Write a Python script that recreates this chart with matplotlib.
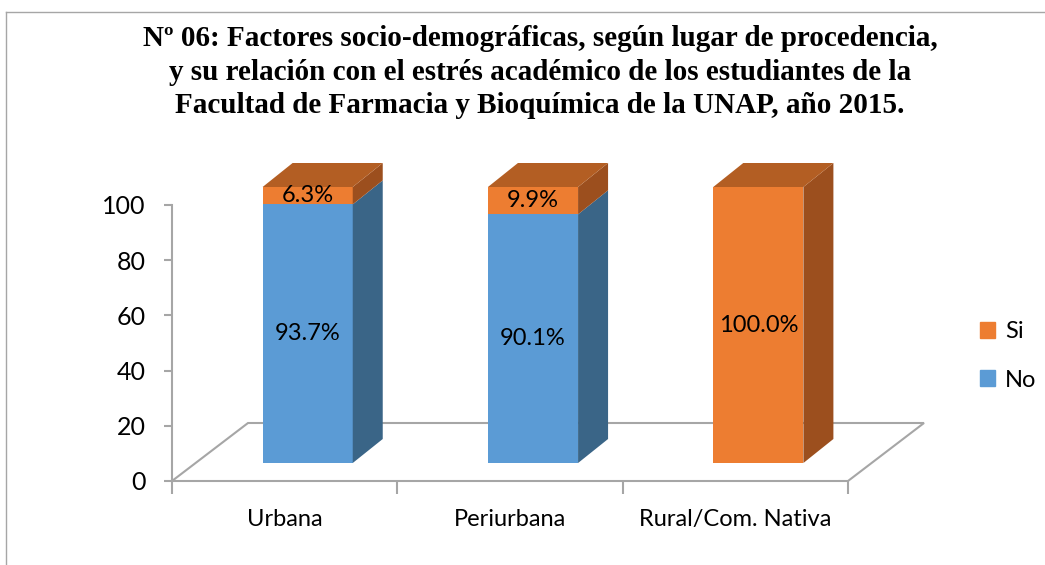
import numpy as np
import matplotlib
matplotlib.use("Agg")
import matplotlib.pyplot as plt
from matplotlib.patches import Polygon, Patch
from matplotlib.lines import Line2D

# datos del grafico
categorias = ["Urbana", "Periurbana", "Rural/Com. Nativa"]
valores_no = [93.7, 90.1, 0.0]
valores_si = [6.3, 9.9, 100.0]
series = ["No", "Si"]

titulo = ("Nº 06: Factores socio-demográficas, según lugar de procedencia,\n"
          "y su relación con el estrés académico de los estudiantes de la\n"
          "Facultad de Farmacia y Bioquímica de la UNAP, año 2015.")

# colores (frente, lado, arriba)
colores = {
    "No": ("#5B9BD5", "#3A6587", "#44739E"),
    "Si": ("#ED7D31", "#9C4F1E", "#B35E23"),
}
gris = "#A6A6A6"

W, H = 1045, 565
fig = plt.figure(figsize=(W / 100, H / 100), dpi=100)
ax = fig.add_axes([172 / W, 1 - 481 / H, (848 - 172) / W, (481 - 205) / H])
ax.set_xlim(-0.5, len(categorias) - 0.5)
ax.set_ylim(0, 100)

# geometria 3D (en unidades de datos)
px_x = 3 / 676.0
px_y = 100 / 276.0
piso_dx, piso_dy = 76 * px_x, 58 * px_y
ox, oy = 23 * px_x, 18 * px_y
prof_dx, prof_dy = 30 * px_x, 24 * px_y
ancho = 0.40

# piso
x0, x1 = -0.5, len(categorias) - 0.5
piso = [(x0, 0), (x1, 0), (x1 + piso_dx, piso_dy), (x0 + piso_dx, piso_dy), (x0, 0)]
ax.plot([p[0] for p in piso], [p[1] for p in piso], color=gris, lw=1.5,
        clip_on=False, zorder=1, solid_joinstyle="miter")

# barras apiladas con efecto 3D
for i, cat in enumerate(categorias):
    base = 0.0
    segs = [("No", valores_no[i]), ("Si", valores_si[i])]
    segs = [s for s in segs if s[1] > 0]
    for k, (nombre, v) in enumerate(segs):
        frente, lado, arriba = colores[nombre]
        xa = i - ancho / 2 + ox
        xb = i + ancho / 2 + ox
        ya = base + oy
        yb = base + v + oy
        ax.add_patch(Polygon([(xa, ya), (xb, ya), (xb, yb), (xa, yb)],
                             closed=True, fc=frente, ec="none", clip_on=False, zorder=3))
        ax.add_patch(Polygon([(xb, ya), (xb + prof_dx, ya + prof_dy),
                              (xb + prof_dx, yb + prof_dy), (xb, yb)],
                             closed=True, fc=lado, ec="none", clip_on=False, zorder=3))
        if k == len(segs) - 1:
            ax.add_patch(Polygon([(xa, yb), (xb, yb), (xb + prof_dx, yb + prof_dy),
                                  (xa + prof_dx, yb + prof_dy)],
                                 closed=True, fc=arriba, ec="none", clip_on=False, zorder=3))
        ax.text(i + ox, base + v / 2 + oy, f"{v:.1f}%", ha="center", va="center",
                fontsize=17, family="Lato", color="black", zorder=5)
        base += v

# ejes
for s in ["top", "right", "bottom"]:
    ax.spines[s].set_visible(False)
ax.spines["left"].set_color(gris)
ax.spines["left"].set_linewidth(1.5)
ax.set_yticks([0, 20, 40, 60, 80, 100])
ax.tick_params(axis="y", colors=gris, length=6, width=1.5, pad=13, labelsize=18,
               labelcolor="black")
ax.set_xticks(np.arange(-0.5, len(categorias), 1.0))
ax.set_xticklabels([])
ax.tick_params(axis="x", which="major", colors=gris, length=9, width=1.5)
ax.set_xticks(np.arange(len(categorias)), minor=True)
ax.set_xticklabels(categorias, minor=True)
ax.tick_params(axis="x", which="minor", length=0, pad=20, labelsize=17)
for t in ax.get_yticklabels() + ax.get_xticklabels(minor=True):
    t.set_family("Lato")
ax.patch.set_visible(False)

# titulo
fig.text(540 / W, 1 - 72 / H, titulo, ha="center", va="center", fontsize=21,
         family="Liberation Serif", weight="bold", linespacing=1.3)

# leyenda
handles = [Patch(color=colores["Si"][0], label="Si"),
           Patch(color=colores["No"][0], label="No")]
fig.legend(handles=handles, loc="center left", bbox_to_anchor=(980 / W, 1 - 356 / H),
           frameon=False, borderpad=0, borderaxespad=0, handlelength=0.65,
           handleheight=0.65, handletextpad=0.4, labelspacing=1.15,
           prop={"family": "Lato", "size": 17})

# borde del grafico
fig.add_artist(Line2D([6 / W, 1], [1 - 12 / H, 1 - 12 / H], color=gris, lw=1))
fig.add_artist(Line2D([6 / W, 6 / W], [0, 1 - 12 / H], color=gris, lw=1))

fig.savefig("out.png", dpi=100)
